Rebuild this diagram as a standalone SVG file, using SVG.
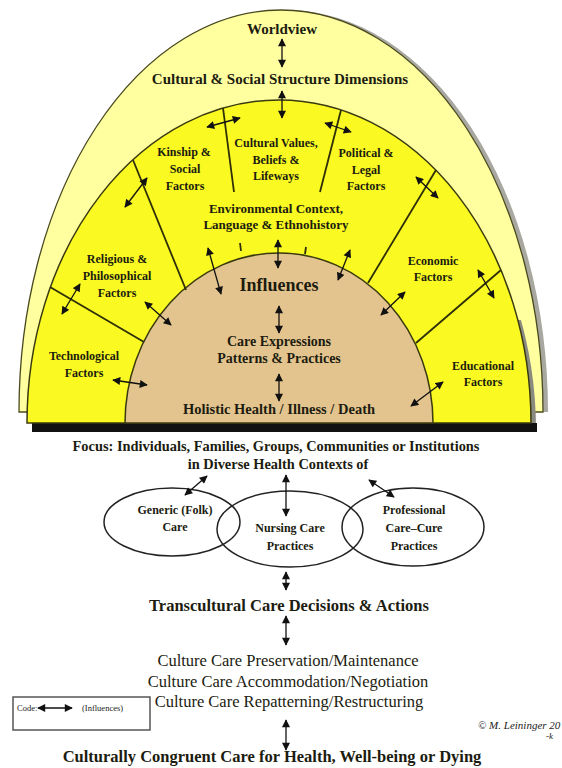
<svg xmlns="http://www.w3.org/2000/svg" width="562" height="768" viewBox="0 0 562 768">
<defs>
<marker id="ah" viewBox="0 0 10 10" refX="9" refY="5" markerWidth="9" markerHeight="8" markerUnits="userSpaceOnUse" orient="auto-start-reverse"><path d="M0,0 L10,5 L0,10 z" fill="#111"/></marker>
<clipPath id="lowright"><rect x="280" y="320" width="282" height="120"/></clipPath>
<style>
.t{font-family:"Liberation Serif","Times New Roman",serif;font-weight:bold;fill:#1c1c10;text-anchor:middle}
.r{font-family:"Liberation Serif","Times New Roman",serif;fill:#1c1c10;text-anchor:middle}
.f{font-size:12px}
.a{stroke:#111;stroke-width:1.3;fill:none;marker-start:url(#ah);marker-end:url(#ah)}
.d{stroke:#2e2e08;stroke-width:1.8;fill:none}
.el{fill:none;stroke:#222;stroke-width:1.5}
</style>
</defs>
<rect width="562" height="768" fill="#fff"/>
<!-- dome -->
<path d="M24 412 A262 402 0 0 1 548 412 Z" fill="#a8a8a0"/>
<path d="M19 412 A262 402 0 0 1 543 412 Z" fill="#FFFFA0" stroke="#4a4a20" stroke-width="1.3"/>
<path d="M32 430 A252 323 0 0 1 536 430 Z" fill="#8a8a80" clip-path="url(#lowright)"/>
<rect x="32" y="423" width="505" height="9" fill="#111"/>
<path d="M27 423 A252 323 0 0 1 531 423 Z" fill="#FAFA22" stroke="#3a3a10" stroke-width="1.5"/>
<path d="M125 423 A154 170 0 0 1 433 423 Z" fill="#E4C48E" stroke="#3a3a10" stroke-width="1.5"/>
<!-- dividers -->
<g id="dividers">
<line class="d" x1="223" y1="108" x2="234" y2="192"/>
<line class="d" x1="341" y1="110" x2="320" y2="192"/>
<line class="d" x1="133" y1="160" x2="186" y2="290"/>
<line class="d" x1="436" y1="170" x2="368" y2="283"/>
<line class="d" x1="50" y1="287" x2="144" y2="342"/>
<line class="d" x1="501" y1="270" x2="416" y2="343"/>
<line class="d" x1="240" y1="243" x2="241" y2="251" stroke-width="1.3"/>
<line class="d" x1="306" y1="247" x2="305" y2="254" stroke-width="1.3"/>
</g>
<g id="worldview"><text class="t" x="282" y="34" font-size="15">Worldview</text></g>
<g id="cultural-social"><text class="t" x="280" y="84" font-size="15">Cultural &amp; Social Structure Dimensions</text></g>
<g id="kinship"><text class="t f" x="184" y="156">Kinship &amp;</text><text class="t f" x="185" y="173">Social</text><text class="t f" x="185" y="190">Factors</text></g>
<g id="cultural-values"><text class="t f" x="276" y="147">Cultural Values,</text><text class="t f" x="276" y="164">Beliefs &amp;</text><text class="t f" x="276" y="180">Lifeways</text></g>
<g id="political"><text class="t f" x="366" y="157">Political &amp;</text><text class="t f" x="366" y="174">Legal</text><text class="t f" x="366" y="190">Factors</text></g>
<g id="environmental"><text class="t" x="276" y="213" font-size="13">Environmental Context,</text><text class="t" x="276" y="229" font-size="13">Language &amp; Ethnohistory</text></g>
<g id="religious"><text class="t f" x="117" y="263">Religious &amp;</text><text class="t f" x="117" y="280">Philosophical</text><text class="t f" x="117" y="297">Factors</text></g>
<g id="economic"><text class="t f" x="433" y="265">Economic</text><text class="t f" x="433" y="281">Factors</text></g>
<g id="technological"><text class="t f" x="84" y="360">Technological</text><text class="t f" x="84" y="377">Factors</text></g>
<g id="educational"><text class="t f" x="483" y="370">Educational</text><text class="t f" x="483" y="386">Factors</text></g>
<g id="influences"><text class="t" x="279" y="291" font-size="18">Influences</text></g>
<g id="care-expressions"><text class="t" x="279" y="346" font-size="14">Care Expressions</text><text class="t" x="279" y="363" font-size="14">Patterns &amp; Practices</text></g>
<g id="holistic"><text class="t" x="279" y="414" font-size="14.5">Holistic Health / Illness / Death</text></g>
<g id="focus"><text class="t" x="276" y="451" font-size="14.4">Focus:  Individuals, Families, Groups, Communities or Institutions</text><text class="t" x="278" y="469" font-size="14.4">in Diverse Health Contexts of</text></g>
<g id="generic"><ellipse class="el" cx="172" cy="522" rx="68" ry="34"/><text class="t f" x="175" y="514">Generic (Folk)</text><text class="t f" x="175" y="531">Care</text></g>
<g id="nursing"><ellipse class="el" cx="290" cy="529" rx="73" ry="38"/><text class="t f" x="290" y="532">Nursing Care</text><text class="t f" x="290" y="550">Practices</text></g>
<g id="professional"><ellipse class="el" cx="413" cy="527" rx="71" ry="39"/><text class="t f" x="414" y="514">Professional</text><text class="t f" x="414" y="532">Care–Cure</text><text class="t f" x="414" y="550">Practices</text></g>
<g id="transcultural"><text class="t" x="289" y="611" font-size="16.5">Transcultural Care Decisions &amp; Actions</text></g>
<g id="culture-care"><text class="r" x="288" y="666" font-size="16.5">Culture Care Preservation/Maintenance</text><text class="r" x="288" y="687" font-size="16.5">Culture Care Accommodation/Negotiation</text><text class="r" x="289" y="707" font-size="16.5">Culture Care Repatterning/Restructuring</text></g>
<g id="congruent"><text class="t" x="272" y="762" font-size="16.5">Culturally Congruent Care for Health, Well-being or Dying</text></g>
<g id="code"><rect x="13" y="697" width="137" height="33" fill="none" stroke="#555" stroke-width="1.5"/><text x="17" y="711" font-family="Liberation Serif,serif" font-size="8.5" fill="#222">Code:</text><line class="a" x1="38" y1="708" x2="72" y2="708" stroke-width="1.2"/><text x="82" y="711" font-family="Liberation Serif,serif" font-size="8.5" fill="#222">(Influences)</text></g>
<g id="copyright"><text x="478" y="729" font-family="Liberation Serif,serif" font-style="italic" font-size="11" fill="#222">© M. Leininger 20</text><text x="546" y="739" font-family="Liberation Serif,serif" font-style="italic" font-size="9" fill="#222">-k</text></g>
<g id="connectors">
<line class="a" x1="282" y1="39" x2="282" y2="67"/>
<line class="a" x1="282" y1="91" x2="282" y2="118"/>
<line class="a" x1="207" y1="127" x2="240" y2="118"/>
<line class="a" x1="325" y1="123" x2="351" y2="132"/>
<line class="a" x1="147" y1="178" x2="125" y2="207"/>
<line class="a" x1="416" y1="177" x2="438" y2="198"/>
<line class="a" x1="80" y1="284" x2="62" y2="314"/>
<line class="a" x1="478" y1="270" x2="494" y2="298"/>
<line class="a" x1="278" y1="240" x2="278" y2="268"/>
<line class="a" x1="208" y1="248" x2="221" y2="294"/>
<line class="a" x1="350" y1="250" x2="338" y2="280"/>
<line class="a" x1="145" y1="302" x2="171" y2="325"/>
<line class="a" x1="405" y1="292" x2="381" y2="315"/>
<line class="a" x1="113" y1="380" x2="147" y2="385"/>
<line class="a" x1="443" y1="382" x2="411" y2="406"/>
<line class="a" x1="279" y1="306" x2="279" y2="333"/>
<line class="a" x1="279" y1="374" x2="279" y2="401"/>
<line class="a" x1="207" y1="476" x2="185" y2="495"/>
<line class="a" x1="286" y1="475" x2="286" y2="516"/>
<line class="a" x1="369" y1="480" x2="394" y2="497"/>
<line class="a" x1="286" y1="572" x2="286" y2="590"/>
<line class="a" x1="286" y1="616" x2="286" y2="645"/>
<line class="a" x1="286" y1="720" x2="286" y2="750"/>
</g>
</svg>
